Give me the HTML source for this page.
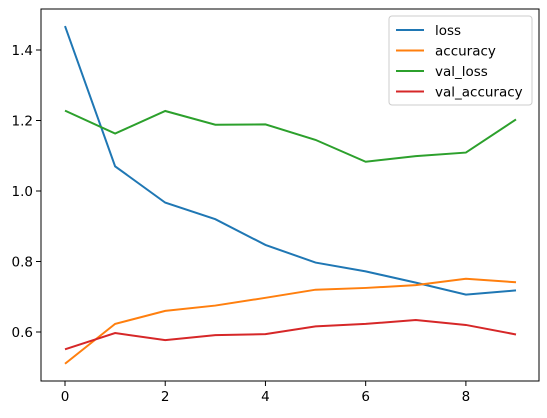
<!DOCTYPE html>
<html><head><meta charset="utf-8"><style>
body{margin:0;background:#fff;}
svg{font-family:"DejaVu Sans","Liberation Sans",sans-serif;}
</style></head><body>
<svg id="chart" width="547" height="413" xmlns="http://www.w3.org/2000/svg"></svg>
<script>
const epochs=[0,1,2,3,4,5,6,7,8,9];
const loss=[1.468,1.070,0.967,0.920,0.847,0.797,0.772,0.740,0.706,0.718];
const accuracy=[0.510,0.623,0.660,0.675,0.697,0.720,0.725,0.733,0.751,0.741];
const valLoss=[1.228,1.163,1.227,1.188,1.189,1.145,1.083,1.099,1.109,1.203];
const valAccuracy=[0.551,0.597,0.577,0.591,0.594,0.616,0.623,0.634,0.620,0.593];
const xTicks=[0,2,4,6,8];
const yTicks=[0.6,0.8,1.0,1.2,1.4];
const seriesNames=["loss","accuracy","val_loss","val_accuracy"];
const colors=["#1f77b4","#ff7f0e","#2ca02c","#d62728"];
const svg=document.getElementById('chart');
const NS="http://www.w3.org/2000/svg";
const L=41,R=539,T=9,B=381;
const xs=v=>65+(v-0)*(516-65)/9;
const ys=v=>332-(v-0.6)*352.5;
function mk(tag,attrs,parent){const e=document.createElementNS(NS,tag);for(const k in attrs)e.setAttribute(k,attrs[k]);(parent||svg).appendChild(e);return e;}
[loss,accuracy,valLoss,valAccuracy].forEach((s,i)=>{
  const p=mk('polyline',{points:s.map((v,j)=>xs(epochs[j])+','+ys(v)).join(' '),fill:'none',stroke:colors[i],'stroke-width':2});
  
  
});
const frame=mk('rect',{x:L,y:T,width:R-L,height:B-T,fill:'none',stroke:'#000','stroke-width':1});


xTicks.forEach(t=>{
  mk('line',{x1:xs(t),x2:xs(t),y1:B,y2:B+5,stroke:'#000','stroke-width':1});
  const tx=mk('text',{x:xs(t),y:B+20,'text-anchor':'middle','font-size':13.5});
  tx.textContent=t;
  
  
});
yTicks.forEach(t=>{
  mk('line',{x1:L-5,x2:L,y1:ys(t),y2:ys(t),stroke:'#000','stroke-width':1});
  const tx=mk('text',{x:L-8,y:ys(t)+5,'text-anchor':'end','font-size':13.5});
  tx.textContent=t.toFixed(1);
  
  
});
const lg=mk('g',{});


mk('rect',{x:389,y:16,width:143,height:89,rx:3,fill:'#fff','fill-opacity':0.8,stroke:'#ccc','stroke-width':1},lg);
seriesNames.forEach((n,i)=>{
  const y=30+i*20.5;
  mk('line',{x1:396,x2:424,y1:y,y2:y,stroke:colors[i],'stroke-width':2},lg);
  const tx=mk('text',{x:435,y:y+5,'font-size':13.5},lg);
  tx.textContent=n;
  
  
});
</script>
</body></html>
